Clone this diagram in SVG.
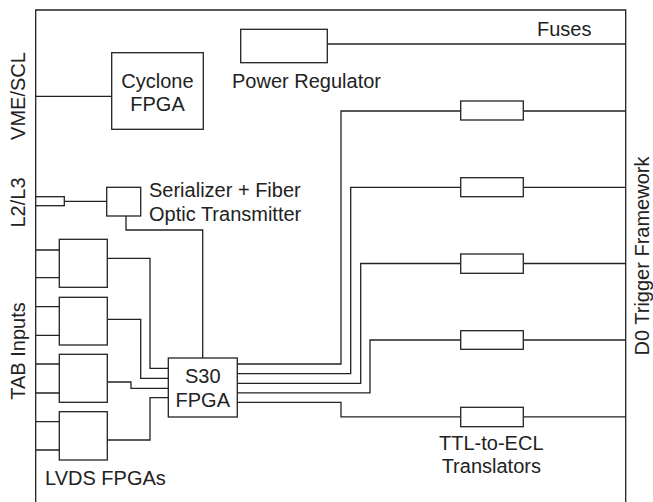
<svg xmlns="http://www.w3.org/2000/svg" width="653" height="502" viewBox="0 0 653 502">
<style>
.b{fill:#fff;stroke:#222;stroke-width:1.3}
.c{fill:none;stroke:#222;stroke-width:1.3}
text{font-family:"Liberation Sans",Arial,sans-serif;font-size:20px;fill:#222}
.m{text-anchor:middle}
</style>
<rect width="653" height="502" fill="#fff"/>
<g id="connectors">
<path class="c" d="M35.7,502 V10 H625.7 V502"/>
<path class="c" d="M327.3,44 H625.7"/>
<path class="c" d="M35.7,96.3 H111.7"/>
<path class="c" d="M64.3,201.3 H106.7"/>
<path class="c" d="M126,216 V230 H202.7 V358"/>
<path class="c" d="M35.7,250 H59.3 M35.7,277.7 H59.3 M35.7,306.7 H59.3 M35.7,335.3 H59.3 M35.7,364 H59.3 M35.7,393 H59.3 M35.7,421.7 H59.3 M35.7,450 H59.3"/>
<path class="c" d="M107.3,258.3 H150 V368.3 H168.3"/>
<path class="c" d="M107.3,319.3 H140.7 V378.3 H168.3"/>
<path class="c" d="M107.3,382 H131 V388.3 H168.3"/>
<path class="c" d="M107.3,440 H150 V397.7 H168.3"/>
<path class="c" d="M237.3,364 H341 V111 H460.7 M523.3,111 H625.7"/>
<path class="c" d="M237.3,373.7 H350.7 V187.3 H460.7 M523.3,187.3 H625.7"/>
<path class="c" d="M237.3,383.3 H360.7 V263.5 H460.7 M523.3,263.5 H625.7"/>
<path class="c" d="M237.3,392.8 H370 V340 H460.7 M523.3,340 H625.7"/>
<path class="c" d="M237.3,402.3 H341 V416.8 H460.7 M523.3,416.8 H625.7"/>
</g>
<g id="power-regulator">
<rect class="b" x="240.7" y="29.3" width="86.6" height="33.4"/>
<text x="232" y="88">Power Regulator</text>
</g>
<g id="fuses"><text x="537" y="36">Fuses</text></g>
<g id="cyclone-fpga">
<rect class="b" x="111.7" y="52.7" width="91.6" height="76.6"/>
<text class="m" x="157.5" y="87.5">Cyclone</text>
<text class="m" x="157.5" y="111">FPGA</text>
</g>
<g id="l2l3-connector"><rect class="b" x="35.7" y="196.7" width="28.6" height="9"/></g>
<g id="serializer">
<rect class="b" x="106.7" y="187.3" width="34" height="28.7"/>
<text x="149" y="196.5">Serializer + Fiber</text>
<text x="149" y="221">Optic Transmitter</text>
</g>
<g id="lvds-fpgas">
<rect class="b" x="59.3" y="239.3" width="48" height="48"/>
<rect class="b" x="59.3" y="297.3" width="48" height="47.7"/>
<rect class="b" x="59.3" y="354.3" width="48" height="48"/>
<rect class="b" x="59.3" y="411.7" width="48" height="48.3"/>
<text x="45" y="485">LVDS FPGAs</text>
</g>
<g id="s30-fpga">
<rect class="b" x="168.3" y="358" width="69" height="59"/>
<text class="m" x="202.8" y="383.3">S30</text>
<text class="m" x="202.8" y="406.7">FPGA</text>
</g>
<g id="translators">
<rect class="b" x="460.7" y="101" width="62.6" height="19"/>
<rect class="b" x="460.7" y="177.7" width="62.6" height="19"/>
<rect class="b" x="460.7" y="254" width="62.6" height="19.3"/>
<rect class="b" x="460.7" y="330.7" width="62.6" height="18.6"/>
<rect class="b" x="460.7" y="407.3" width="62.6" height="19.4"/>
<text class="m" x="491.3" y="450">TTL-to-ECL</text>
<text class="m" x="491.3" y="473.3">Translators</text>
</g>
<g id="side-labels">
<text class="m" transform="translate(24.5,96) rotate(-90)">VME/SCL</text>
<text class="m" transform="translate(24.5,202.5) rotate(-90)">L2/L3</text>
<text class="m" transform="translate(24.5,351) rotate(-90)">TAB Inputs</text>
<text class="m" transform="translate(648.5,256) rotate(-90)">D0 Trigger Framework</text>
</g>
</svg>
